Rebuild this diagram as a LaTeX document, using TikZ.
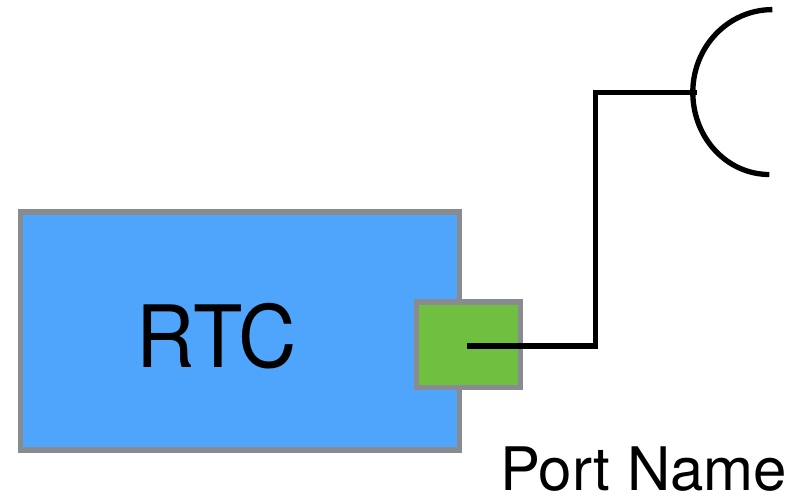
\documentclass[tikz,border=0pt]{standalone}
\usepackage{fontspec}
\setmainfont{TeX Gyre Heros}
\newfontfamily\rtcfont[FakeStretch=0.94]{TeX Gyre Heros}
\definecolor{rtcblue}{HTML}{4FA5FB}
\definecolor{portgreen}{HTML}{70BF41}
\definecolor{edgegray}{HTML}{888B8F}
\tikzset{
  box/.style={draw=edgegray,line width=5.3pt,inner sep=0pt,outer sep=0pt,anchor=north west},
  wire/.style={draw=black,line width=5.3pt,line join=miter}
}
\begin{document}
\begin{tikzpicture}[x=1pt,y=-1pt]
\useasboundingbox (0,0) rectangle (788,496);
\node[box,fill=rtcblue,minimum width=439pt,minimum height=238pt] (rtc) at (20.5,212) {};
\node[font=\rtcfont\fontsize{86}{86}\selectfont,anchor=base,inner sep=0pt] (lab) at (217,367) {RTC};
\node[box,fill=portgreen,minimum width=104.4pt,minimum height=85.5pt] (port) at (416.2,302) {};
\coordinate (pc) at (467.3,346);
\coordinate (top) at (772.3,9.6);
\coordinate (bot) at (769.3,174.5);
\coordinate (arcmid) at (692.8,92.3);
\coordinate (stub) at (696.7,92.3);
\draw[wire] (pc) -- (595.5,346) -- (595.5,92.3) -- (stub);
\draw[wire] (top) .. controls (728.4,9.6) and (692.8,46.6) .. (arcmid) .. controls (692.8,138) and (727,174.5) .. (bot);
\node[font=\fontsize{60}{60}\selectfont,anchor=base,inner sep=0pt] (name) at (643.5,490) {Port Name};
\end{tikzpicture}
\end{document}
